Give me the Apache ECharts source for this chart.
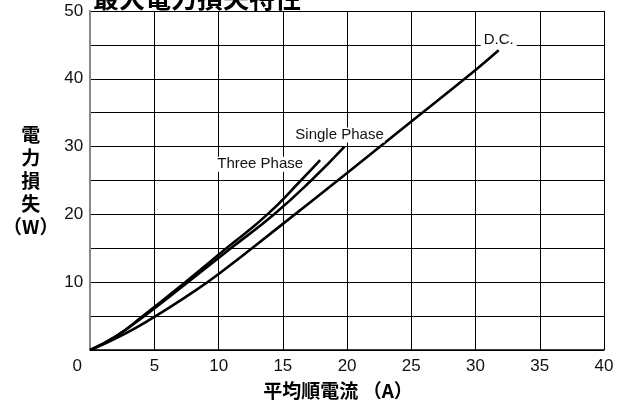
<!DOCTYPE html>
<html>
<head>
<meta charset="utf-8">
<script src="https://cdn.jsdelivr.net/npm/echarts@6/dist/echarts.min.js"></script>
<style>html,body{margin:0;padding:0;background:#fff;}#c{width:623px;height:405px;}</style>
</head>
<body>
<div id="c"></div>
<script>
var titleText = '最大電力損失特性';
var xName = '平均順電流 （A）';
var yName = '電\n力\n損\n失\n（W）';
var xTicks = [0, 5, 10, 15, 20, 25, 30, 35, 40];
var yTicks = [10, 20, 30, 40, 50];

var threeI = [0, 2, 4.1, 7.4, 10.6, 13.8, 16.4, 17.9];
var threeP = [0, 2.0, 5, 10, 15, 20, 25, 28];
var singleI = [0, 2, 4.2, 7.6, 10.95, 14.3, 17.2, 19.8];
var singleP = [0, 2.0, 5, 10, 15, 20, 25, 30];
var dcI = [0, 2.5, 5, 7.5, 10, 15, 20, 25, 30, 31.8];
var dcP = [0, 2.2, 4.9, 7.9, 11.2, 18.6, 26.1, 33.7, 41.3, 44.2];

var labelFont = {fontFamily: 'Liberation Sans, Arial, sans-serif', fontSize: 15, color: '#111', backgroundColor: '#fff'};

function build(xs, ys, lab) {
  return xs.map(function (x, i) {
    var item = {value: [x, ys[i]]};
    if (i === xs.length - 1) {
      item.label = Object.assign({show: true}, labelFont, lab);
    }
    return item;
  });
}

function lineSeries(name, data) {
  return {
    name: name, type: 'line', data: data, smooth: 0.5,
    symbol: 'circle', symbolSize: 0, showSymbol: true,
    lineStyle: {color: '#000', width: 2.6},
    itemStyle: {color: '#000'},
    silent: true, animation: false,
    emphasis: {disabled: true}
  };
}

var chart = echarts.init(document.getElementById('c'));
chart.setOption({
  backgroundColor: '#fff',
  animation: false,
  title: {
    text: titleText, left: 88, top: -20,
    textStyle: {fontFamily: 'Noto Sans CJK JP', fontSize: 26, fontWeight: 'bold', color: '#000'}
  },
  grid: {left: 88, right: 19, top: 11, bottom: 53},
  xAxis: {
    type: 'value', min: 0, max: 40, interval: 5,
    name: xName, nameLocation: 'middle', nameGap: 31,
    nameTextStyle: {fontFamily: 'Noto Sans CJK JP', fontSize: 19, fontWeight: 'bold', color: '#000', padding: [0, 18, 0, 0]},
    axisLine: {show: true, lineStyle: {color: '#000', width: 1.5}},
    axisTick: {show: false},
    splitLine: {show: true, lineStyle: {color: '#000', width: 1}},
    axisLabel: {
      fontFamily: 'Liberation Sans, Arial, sans-serif', fontSize: 17, color: '#111', margin: 8,
      formatter: function (v) {
        if (xTicks.indexOf(v) < 0) return '';
        return v === 0 ? '{z|0}' : String(v);
      },
      rich: {z: {fontFamily: 'Liberation Sans, Arial, sans-serif', fontSize: 17, color: '#111', padding: [0, 26, 0, 0]}}
    }
  },
  yAxis: {
    type: 'value', min: 0, max: 50, interval: 5,
    name: yName, nameLocation: 'middle', nameGap: 56, nameRotate: 0,
    nameTextStyle: {fontFamily: 'Noto Sans CJK JP', fontSize: 19, fontWeight: 'bold', color: '#000', align: 'center', lineHeight: 23, padding: [7, 0, 0, 0]},
    axisLine: {show: true, lineStyle: {color: '#888', width: 2}},
    axisTick: {show: false},
    splitLine: {show: true, lineStyle: {color: '#000', width: 1}},
    axisLabel: {
      fontFamily: 'Liberation Sans, Arial, sans-serif', fontSize: 17, color: '#111', margin: 7,
      formatter: function (v) { return yTicks.indexOf(v) >= 0 ? String(v) : ''; }
    }
  },
  series: [
    lineSeries('Three Phase', build(threeI, threeP, {formatter: 'Three Phase', position: 'left', distance: 16, offset: [0, 4], padding: [0, 1]})),
    lineSeries('Single Phase', build(singleI, singleP, {formatter: 'Single Phase', position: 'top', distance: 4, offset: [-5, 0], padding: [0, 1]})),
    lineSeries('D.C.', build(dcI, dcP, {formatter: 'D.C.', position: 'top', distance: 3, offset: [0, 0], padding: [0, 3]}))
  ]
});
</script>
</body>
</html>
